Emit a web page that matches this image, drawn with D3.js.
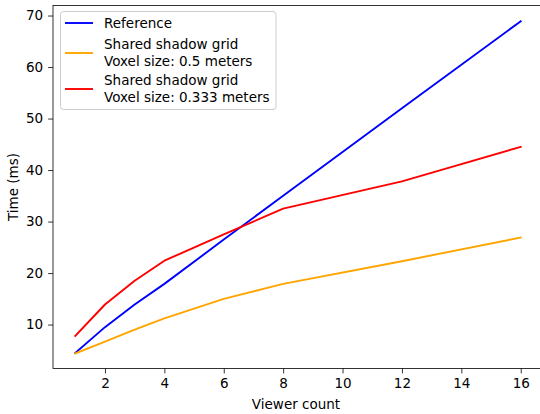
<!DOCTYPE html>
<html>
<head>
<meta charset="utf-8">
<script src="https://cdn.jsdelivr.net/npm/d3@7"></script>
<style>
  body { margin: 0; background: #fff; }
  svg { display: block; font-family: "DejaVu Sans", sans-serif; }
</style>
</head>
<body>
<div id="chart"></div>
<script>
// data
const viewers = [1, 2, 3, 4, 6, 8, 12, 16];
const referenceMs = [4.5, 9.5, 13.9, 17.9, 26.5, 35.0, 52.0, 68.9];
const grid05Ms = [4.4, 6.7, 9.0, 11.2, 15.0, 17.9, 22.3, 26.9];
const grid0333Ms = [7.8, 13.9, 18.5, 22.4, 27.5, 32.5, 37.8, 44.5];
const xTicks = [2, 4, 6, 8, 10, 12, 14, 16];
const yTicks = [10, 20, 30, 40, 50, 60, 70];

const series = [
    { name: ['Reference'], color: 'blue', values: referenceMs },
    { name: ['Shared shadow grid', 'Voxel size: 0.5 meters'], color: 'orange', values: grid05Ms },
    { name: ['Shared shadow grid', 'Voxel size: 0.333 meters'], color: 'red', values: grid0333Ms },
];

const width = 540;
const height = 414;
const margin = { top: 5.5, left: 53, right: 1, bottom: 45.5 };
const fontSize = 13.5;

const svg = d3.select('#chart').append('svg')
    .attr('width', width)
    .attr('height', height);

// x padded 5% like matplotlib
const xScale = d3.scaleLinear()
    .domain([0.25, 16.75])
    .range([margin.left, margin.left + 490]);

const yScale = d3.scaleLinear()
    .domain([1.47, 71.95])
    .range([height - margin.bottom, margin.top]);

svg.append('defs').append('clipPath').attr('id', 'plotClip')
    .append('rect')
    .attr('x', margin.left)
    .attr('y', margin.top)
    .attr('width', width - margin.left)
    .attr('height', height - margin.bottom - margin.top);

// lines
const line = d3.line()
    .x((d, i) => xScale(viewers[i]))
    .y(d => yScale(d));

const plot = svg.append('g').attr('clip-path', 'url(#plotClip)');
series.forEach(s => {
    plot.append('path')
        .datum(s.values)
        .attr('d', line)
        .attr('fill', 'none')
        .attr('stroke', s.color)
        .attr('stroke-width', 1.9)
        .attr('stroke-linejoin', 'round')
        .attr('stroke-linecap', 'square');
});

// AXES
const xAxis = svg.append('g')
    .attr('transform', `translate(0,${height - margin.bottom})`)
    .call(d3.axisBottom(xScale).tickValues(xTicks).tickSize(4.9).tickPadding(4.9).tickSizeOuter(0));
const yAxis = svg.append('g')
    .attr('transform', `translate(${margin.left},0)`)
    .call(d3.axisLeft(yScale).tickValues(yTicks).tickSize(4.9).tickPadding(4.9).tickSizeOuter(0));

[xAxis, yAxis].forEach(a => {
    a.select('.domain').remove();
    a.selectAll('text').style('font-size', fontSize + 'px').attr('fill', '#000')
        .style('font-family', '"DejaVu Sans", sans-serif');
    a.selectAll('line').attr('stroke', '#000').attr('stroke-width', 0.8);
});

// frame
svg.append('rect')
    .attr('x', margin.left)
    .attr('y', margin.top)
    .attr('width', width - margin.left - margin.right + 2)
    .attr('height', height - margin.bottom - margin.top)
    .attr('fill', 'none')
    .attr('stroke', '#000')
    .attr('stroke-width', 0.8);

svg.append('text')
    .attr('x', (margin.left + 539) / 2)
    .attr('y', 409)
    .attr('text-anchor', 'middle')
    .style('font-size', fontSize + 'px')
    .text('Viewer count');

svg.append('text')
    .attr('transform', `translate(18,${(margin.top + height - margin.bottom) / 2}) rotate(-90)`)
    .attr('text-anchor', 'middle')
    .style('font-size', fontSize + 'px')
    .text('Time (ms)');

// legend
const legend = svg.append('g');
legend.append('rect')
    .attr('x', 60.5)
    .attr('y', 11.5)
    .attr('width', 215.5)
    .attr('height', 98)
    .attr('rx', 3)
    .attr('fill', 'rgba(255,255,255,0.8)')
    .attr('stroke', '#cccccc')
    .attr('stroke-width', 1);

const rowY = [23, 53, 89];
series.forEach((s, i) => {
    legend.append('line')
        .attr('x1', 65).attr('x2', 93)
        .attr('y1', rowY[i]).attr('y2', rowY[i])
        .attr('stroke', s.color)
        .attr('stroke-width', 1.9);
    const n = s.name.length;
    s.name.forEach((t, j) => {
        legend.append('text')
            .attr('x', 104)
            .attr('y', rowY[i] + (j - (n - 1) / 2) * 16.5)
            .attr('dy', '0.35em')
            .style('font-size', fontSize + 'px')
            .text(t);
    });
});
</script>
</body>
</html>
